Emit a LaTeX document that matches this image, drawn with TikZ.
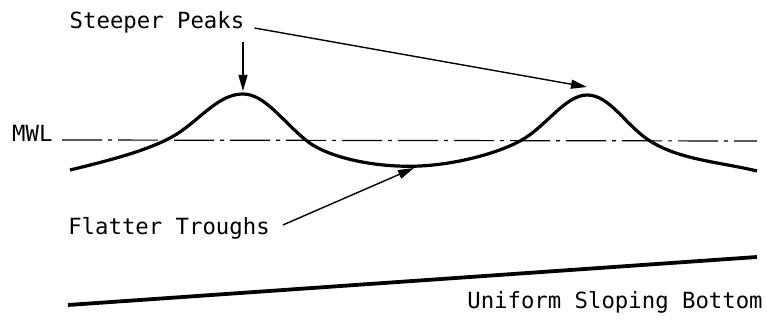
\documentclass[tikz,border=0pt]{standalone}
\usepackage{fontspec}
\setmonofont{DejaVu Sans Mono}
\usetikzlibrary{positioning,arrows.meta}
\tikzset{
  label/.style={font=\ttfamily\fontsize{22.3}{26}\selectfont,inner sep=0pt},
  wave/.style={line width=3.2pt,line join=round},
  mwl/.style={line width=1.2pt,dash pattern=on 40pt off 6pt on 4pt off 6pt},
  pointer/.style={line width=1.4pt,-{Triangle[length=16pt,width=9pt]}},
  bed/.style={line width=3.8pt}
}
\begin{document}
\begin{tikzpicture}[x=1pt,y=-1pt]
\useasboundingbox (0,0) rectangle (767,320);
% labels
\node[label] (sp) at (157,22) {Steeper Peaks};
\node[label,anchor=west] (mw) at (12,133) {MWL};
\node[label] (ft) at (169,228) {Flatter Troughs};
\node[label] (usb) at (615,302) {Uniform Sloping Bottom};
% key points of the wave
\coordinate (pk1) at (243,91);
\coordinate (pk2) at (587,87);
\coordinate (tr) at (414,168);
\coordinate (pk1top) at (243,42);
% still water level
\coordinate (mwa) at (62,140);
\coordinate (mwb) at (757,141);
\draw[mwl] (mwa) -- (mwb);
% wave profile
\draw[wave] (70,170) .. controls (120,158) and (158,147) .. (180,132)
  .. controls (203,116) and (220,94) .. (243,94)
  .. controls (265,94) and (283,122) .. (307,141)
  .. controls (330,159) and (380,168) .. (420,166)
  .. controls (460,164) and (500,152) .. (520,141)
  .. controls (545,128) and (565,95) .. (587,95)
  .. controls (610,95) and (625,125) .. (650,141)
  .. controls (680,160) and (720,162) .. (757,171);
% bottom
\coordinate (bl) at (68,305);
\coordinate (br) at (757,257);
\draw[bed] (bl) -- (br);
% arrows
\draw[pointer] (pk1top) -- (pk1);
\draw[pointer] ([xshift=10pt,yshift=-6pt]sp.east) -- (pk2);
\draw[pointer] ([xshift=13pt,yshift=3pt]ft.east) -- (tr);
\end{tikzpicture}
\end{document}
